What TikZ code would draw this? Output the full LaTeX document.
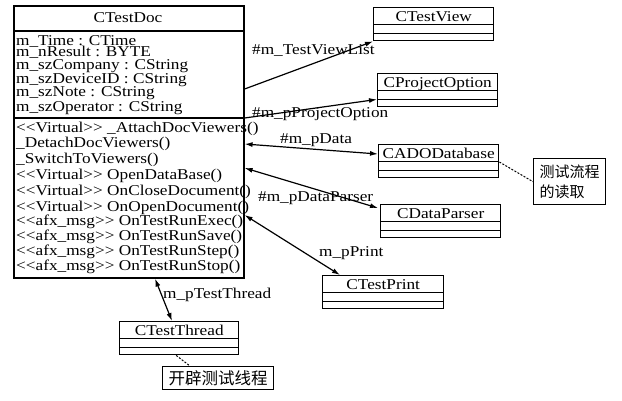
\documentclass[tikz,border=0pt]{standalone}
\usepackage{fontspec}
\setmainfont{Liberation Serif}[FakeStretch=1.15]
\newfontfamily\cjk{Noto Sans CJK SC}
\usetikzlibrary{arrows.meta}

% double angle brackets kept as two separate glyphs
\newcommand\dlt{<\kern0pt<}
\newcommand\dgt{>\kern0pt>}

% UML class: #1 name, #2 left, #3 top, #4 width, #5 class name
\newcommand\classbox[5]{%
  \node[umlbox, minimum width=#4] (#1) at (#2,#3) {};
  \node[anchor=base, inner sep=0pt] (#1-name) at ([yshift=-14.5pt]#1.north) {#5};
  \draw[line width=1.2pt] ([yshift=-17.5pt]#1.north west) -- ([yshift=-17.5pt]#1.north east);
  \draw[line width=1.2pt] ([yshift=8pt]#1.south west) -- ([yshift=8pt]#1.south east);
}

\begin{document}
\begin{tikzpicture}[x=1pt, y=-1pt,
  font=\fontsize{15}{15}\selectfont,
  umlbox/.style={draw, line width=1.4pt, inner sep=0pt, minimum height=33pt, anchor=north west},
  member/.style={anchor=base west, inner sep=0pt},
  lbl/.style={anchor=base west, inner sep=0pt},
  link/.style={line width=1.2pt},
  uni/.style={link, -{Latex[length=8pt,width=5pt]}},
  both/.style={link, {Latex[length=8pt,width=5pt]}-{Latex[length=8pt,width=5pt]}},
  notebox/.style={draw, line width=1.4pt, inner sep=0pt, anchor=north west},
  attach/.style={line width=1pt, dash pattern=on 2pt off 1.5pt}]

\fill[white] (0,0) rectangle (622,400);
\useasboundingbox (0,0) rectangle (622,400);

% main document class
\node[draw, line width=1.6pt, inner sep=0pt, minimum width=230pt, minimum height=272pt,
      anchor=north west] (doc) at (13,5) {};
\node[inner sep=0pt] (doc-name) at (128,18) {CTestDoc};
\draw[line width=1.4pt] ([yshift=-26pt]doc.north west) -- ([yshift=-26pt]doc.north east);
\draw[line width=1.4pt] ([yshift=-113pt]doc.north west) -- ([yshift=-113pt]doc.north east);

% attributes
\node[member] (a1) at (16,45)   {m\_Time : CTime};
\node[member] (a2) at (16,56.5) {m\_nResult : BYTE};
\node[member] (a3) at (16,69)   {m\_szCompany : CString};
\node[member] (a4) at (16,83)   {m\_szDeviceID : CString};
\node[member] (a5) at (16,96)   {m\_szNote : CString};
\node[member] (a6) at (16,111)  {m\_szOperator : CString};

% operations
\node[member] (o1)  at (16,132) {\dlt Virtual\dgt\ \_AttachDocViewers()};
\node[member] (o2)  at (16,147) {\_DetachDocViewers()};
\node[member] (o3)  at (16,163) {\_SwitchToViewers()};
\node[member] (o4)  at (16,179) {\dlt Virtual\dgt\ OpenDataBase()};
\node[member] (o5)  at (16,195) {\dlt Virtual\dgt\ OnCloseDocument()};
\node[member] (o6)  at (16,211) {\dlt Virtual\dgt\ OnOpenDocument()};
\node[member] (o7)  at (16,225) {\dlt afx\_msg\dgt\ OnTestRunExec()};
\node[member] (o8)  at (16,240) {\dlt afx\_msg\dgt\ OnTestRunSave()};
\node[member] (o9)  at (16,255) {\dlt afx\_msg\dgt\ OnTestRunStep()};
\node[member] (o10) at (16,270) {\dlt afx\_msg\dgt\ OnTestRunStop()};

% associated classes
\classbox{view}{373}{7}{120pt}{CTestView}
\classbox{popt}{377}{73}{120pt}{CProjectOption}
\classbox{ado}{378}{144}{120pt}{CADODatabase}
\classbox{parser}{380}{204}{120pt}{CDataParser}
\classbox{print}{322}{275}{121pt}{CTestPrint}
\classbox{thread}{119}{321}{119pt}{CTestThread}

% notes
\node[notebox, minimum width=72pt, minimum height=46pt, align=left,
      font=\cjk\fontsize{15}{20}\selectfont] (note1) at (533,158) {测试流程\\的读取};
\node[notebox, minimum width=111pt, minimum height=23pt,
      font=\cjk\fontsize{16.5}{16.5}\selectfont] (note2) at (162,366) {开辟测试线程};

% associations
\draw[uni]  ([yshift=-84pt]doc.north east)  -- (view.south west);
\draw[uni]  ([yshift=-113pt]doc.north east) -- ([yshift=8pt]popt.south west);
\draw[both] ([yshift=-139pt]doc.north east) -- ([yshift=-10pt]ado.north west);
\draw[both] ([yshift=-163pt]doc.north east) -- ([xshift=-2pt,yshift=-4pt]parser.north west);
\draw[both] ([yshift=-210pt]doc.north east) -- ([xshift=18pt]print.north west);
\draw[both] ([xshift=142pt]doc.south west)  -- ([xshift=53pt]thread.north west);

% note attachments
\draw[attach] ([yshift=-18pt]ado.north east) -- (note1.west);
\draw[attach] ([xshift=-3pt]thread.south) -- ([xshift=28pt]note2.north west);

% role names
\node[lbl] (r1) at (252,54)  {\#m\_TestViewList};
\node[lbl] (r2) at (252,117) {\#m\_pProjectOption};
\node[lbl] (r3) at (280,143) {\#m\_pData};
\node[lbl] (r4) at (258,201) {\#m\_pDataParser};
\node[lbl] (r5) at (319,256) {m\_pPrint};
\node[lbl] (r6) at (163,298) {m\_pTestThread};
\end{tikzpicture}
\end{document}
